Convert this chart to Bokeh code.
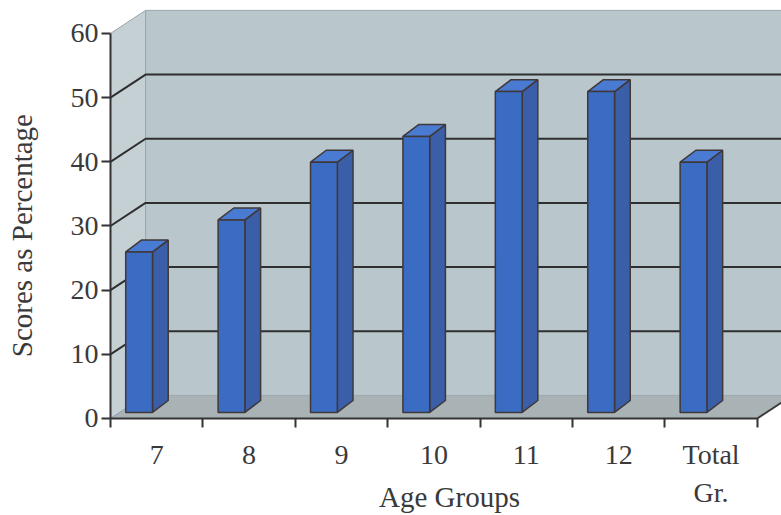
from math import pi
from bokeh.plotting import figure
from bokeh.models import FixedTicker, Range1d, ColumnDataSource, LinearAxis
from bokeh.core.properties import value
from bokeh.embed import file_html
from bokeh.resources import INLINE

# chart data
groups = ["7", "8", "9", "10", "11", "12", "Total\nGr."]
scores = [25, 30, 39, 43, 50, 50, 39]
y_ticks = [0, 10, 20, 30, 40, 50, 60]
x_title = "Age Groups"
y_title = "Scores as Percentage"

# 3-D box geometry (data units)
DX, DY = 0.38, 3.6          # depth shift from the front plane to the back wall
BAR_W = 0.29                # width of a bar's front face
BAR_X0 = 0.165              # left edge of the front face inside its slot
BAR_BASE = 0.95             # front face bottom, raised by its depth on the floor
BDX, BDY = 0.17, 1.85       # depth of a bar (side / top faces)
FAR = 9.0                   # walls run past the right edge of the frame

n = len(groups)
font = "Liberation Serif"
ink = "#333333"
text_ink = "#3a3a3a"

# the frame fills the whole canvas; axes are pinned at x = 0 and y = 0
p = figure(width=781, height=515,
           x_range=Range1d(-1.19, 7.262), y_range=Range1d(-15.12, 65.14),
           output_backend="svg", toolbar_location=None,
           x_axis_location=None, y_axis_location=None,
           min_border=0)
p.outline_line_color = None
p.grid.visible = False
p.background_fill_color = "white"
p.border_fill_color = "white"

# walls and floor
p.patch([DX, FAR, FAR, DX], [DY, DY, 60 + DY, 60 + DY],
        fill_color="#b9c6cc", line_color=None)
p.patch([0, DX, DX, 0], [0, DY, 60 + DY, 60],
        fill_color="#c5d0d4", line_color=None)
p.patch([0, n, n + DX, DX], [0, 0, DY, DY],
        fill_color="#a9b2b5", line_color=None)

# light box edges
p.multi_line(xs=[[DX, DX], [0, DX, FAR], [0, DX, FAR], [0, DX]],
             ys=[[DY, 60 + DY], [60, 60 + DY, 60 + DY], [0, DY, DY], [0, DY]],
             line_color="#98a5ab", line_width=1)

# gridlines: across the side wall, then along the back wall
grid_vals = [v for v in y_ticks if 0 < v < 60]
p.multi_line(xs=[[0, DX, FAR] for _ in grid_vals],
             ys=[[v, v + DY, v + DY] for v in grid_vals],
             line_color="#2f2f2f", line_width=2)

# right edge of the floor
p.line([n, n + DX], [0, DY], line_color="#3a3a3a", line_width=2)

# bars
left = [i + BAR_X0 for i in range(n)]
right = [l + BAR_W for l in left]
bottom = [BAR_BASE] * n
top = [BAR_BASE + s for s in scores]

side_xs = [[r, r + BDX, r + BDX, r] for r in right]
side_ys = [[b, b + BDY, t + BDY, t] for b, t in zip(bottom, top)]
top_xs = [[l, r, r + BDX, l + BDX] for l, r in zip(left, right)]
top_ys = [[t, t, t + BDY, t + BDY] for t in top]

outline = "#403838"
p.patches(side_xs, side_ys, fill_color="#3a5ea8", line_color=outline, line_width=1.5)
p.patches(top_xs, top_ys, fill_color="#4a7bd2", line_color=outline, line_width=1.5)
src = ColumnDataSource(dict(x=[l + BAR_W / 2 for l in left], top=top, bottom=bottom))
p.vbar(x="x", width=BAR_W, top="top", bottom="bottom", source=src,
       fill_color="#3b6cc4", line_color=outline, line_width=1.5)

# y axis, drawn along x = 0
ya = LinearAxis(fixed_location=0)
ya.ticker = FixedTicker(ticks=y_ticks, minor_ticks=[])
ya.bounds = (0, 60)
ya.axis_line_width = 2
ya.axis_line_color = ink
ya.major_tick_out = 9
ya.major_tick_in = 0
ya.major_tick_line_width = 2
ya.major_tick_line_color = ink
ya.minor_tick_out = 0
ya.minor_tick_in = 0
ya.major_label_standoff = 3
ya.major_label_text_font = font
ya.major_label_text_font_size = "28px"
ya.major_label_text_color = text_ink
p.add_layout(ya, "left")

# x axis along y = 0: labels at slot centres, tick marks at slot boundaries
centres = [i + 0.5 for i in range(n)]
xa = LinearAxis(fixed_location=0)
xa.ticker = FixedTicker(ticks=centres, minor_ticks=list(range(n + 1)))
xa.major_label_overrides = {c: g for c, g in zip(centres, groups)}
xa.bounds = (0, n)
xa.axis_line_width = 2
xa.axis_line_color = ink
xa.major_tick_out = 0
xa.major_tick_in = 0
xa.minor_tick_out = 9
xa.minor_tick_in = 0
xa.minor_tick_line_width = 2
xa.minor_tick_line_color = ink
xa.major_label_standoff = 12
xa.major_label_text_font = font
xa.major_label_text_font_size = "28px"
xa.major_label_text_color = text_ink
xa.major_label_text_line_height = 1.2
p.add_layout(xa, "below")

# axis titles
p.text(x=[3.669], y=[-12.3], text=[x_title], text_align="center",
       text_baseline="alphabetic", text_font=value(font),
       text_font_size="29px", text_color=text_ink)
p.text(x=[-0.952], y=[28.5], text=[y_title], angle=pi / 2,
       text_align="center", text_baseline="alphabetic", text_font=value(font),
       text_font_size="29px", text_color=text_ink)

open("out.html", "w").write(file_html(p, INLINE))
